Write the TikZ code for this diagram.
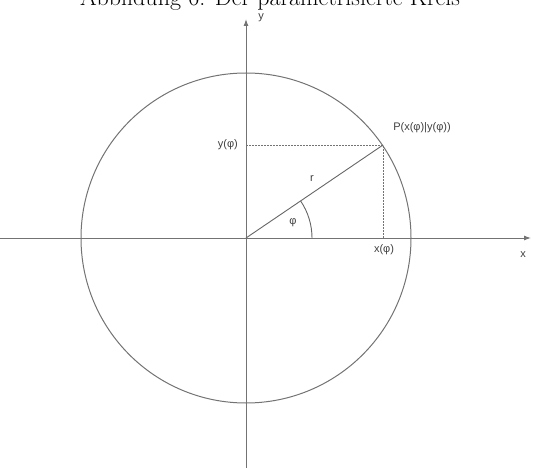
\documentclass[tikz,border=0pt]{standalone}
\usepackage{fontspec}
\newfontfamily\lblfont{Liberation Sans}
\usetikzlibrary{arrows.meta}
\begin{document}
\begin{tikzpicture}[x=1pt,y=-1pt,
  axis/.style={draw=black!55,line width=1pt},
  guide/.style={draw=black!55,line width=0.9pt,dash pattern=on 2pt off 1pt},
  lbl/.style={font=\lblfont\fontsize{11}{12}\selectfont,text=black!75,inner sep=0pt}]
\useasboundingbox (0,0) rectangle (533,468);
\node[anchor=base,inner sep=0pt,font=\fontsize{24}{28}\selectfont] (title) at (270,6) {Abbildung 6: Der parametrisierte Kreis};
\coordinate (O) at (246,238);
\coordinate (xl) at (0,238);
\coordinate (xr) at (531,238);
\coordinate (yb) at (246,468);
\coordinate (yt) at (246,19);
\coordinate (P) at (383,145);
\coordinate (Py) at (246,145);
\coordinate (Px) at (383,238);
\draw[axis,-{Latex[length=7pt,width=5pt]}] (xl) -- (xr);
\draw[axis,-{Latex[length=7pt,width=5pt]}] (yb) -- (yt);
\draw[axis] (O) circle[radius=165];
\draw[guide] (Py) -- (P) -- (Px);
\draw[draw=black!60,line width=0.9pt] (O) -- (P);
\draw[draw=black!60,line width=0.9pt] (312,238) arc[start angle=0,end angle=-34.2,radius=66];
\node[lbl] (ylab) at (261,18) {y};
\node[lbl] (xlab) at (523,255) {x};
\node[lbl,anchor=east] (yphi) at (238,145) {y(φ)};
\node[lbl] (xphi) at (384,250) {x(φ)};
\node[lbl] (Plab) at (422,128) {P(x(φ)|y(φ))};
\node[lbl] (rlab) at (312,179) {r};
\node[lbl] (philab) at (293,223) {φ};
\end{tikzpicture}
\end{document}
